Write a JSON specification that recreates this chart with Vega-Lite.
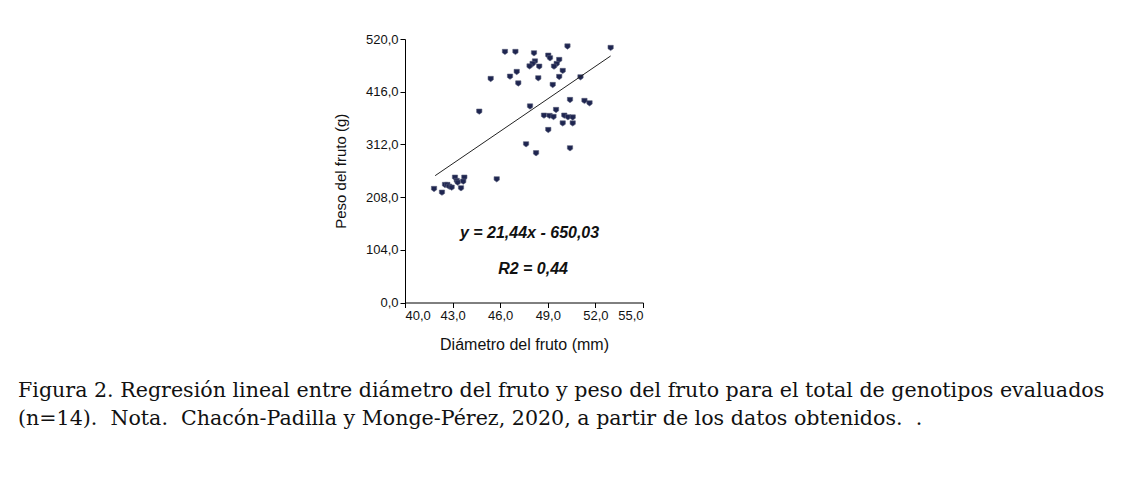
{
  "$schema": "https://vega.github.io/schema/vega-lite/v6.json",
  "width": 238,
  "height": 263.5,
  "autosize": {"type": "none"},
  "padding": {"left": 405, "top": 39, "right": 480, "bottom": 193},
  "background": "white",
  "config": {"view": {"stroke": null}, "font": "Liberation Sans"},
  "title": {
    "text": ["Figura 2. Regresión lineal entre diámetro del fruto y peso del fruto para el total de genotipos evaluados", "(n=14).\u00a0 Nota.\u00a0 Chacón-Padilla y Monge-Pérez, 2020, a partir de los datos obtenidos.\u00a0 ."],
    "orient": "bottom",
    "anchor": "start",
    "frame": "group",
    "dx": -387,
    "offset": 28,
    "font": "DejaVu Serif",
    "fontSize": 20.6,
    "fontWeight": "normal",
    "color": "#111111",
    "lineHeight": 28
  },
  "datasets": {
    "points": [
      {"d": 41.83, "p": 224.0}, {"d": 42.33, "p": 216.7}, {"d": 42.52, "p": 231.9}, {"d": 42.67, "p": 231.9},
      {"d": 42.79, "p": 228.5}, {"d": 42.94, "p": 226.6}, {"d": 43.15, "p": 246.3}, {"d": 43.26, "p": 239.8},
      {"d": 43.32, "p": 236.4}, {"d": 43.74, "p": 246.3}, {"d": 43.67, "p": 238.4}, {"d": 43.53, "p": 225.4},
      {"d": 45.78, "p": 243.1}, {"d": 44.68, "p": 376.6}, {"d": 45.40, "p": 441.1}, {"d": 46.30, "p": 494.4},
      {"d": 46.96, "p": 494.4}, {"d": 46.62, "p": 445.6}, {"d": 47.04, "p": 454.9}, {"d": 47.14, "p": 432.2},
      {"d": 48.13, "p": 491.8}, {"d": 48.19, "p": 475.6}, {"d": 48.04, "p": 470.7}, {"d": 47.85, "p": 465.8},
      {"d": 48.46, "p": 465.4}, {"d": 49.03, "p": 487.1}, {"d": 49.14, "p": 481.9}, {"d": 49.72, "p": 478.6},
      {"d": 49.56, "p": 470.7}, {"d": 49.39, "p": 465.4}, {"d": 49.94, "p": 456.9}, {"d": 48.40, "p": 442.5},
      {"d": 49.72, "p": 445.0}, {"d": 49.31, "p": 429.2}, {"d": 50.24, "p": 505.2}, {"d": 52.96, "p": 502.3},
      {"d": 51.06, "p": 444.4}, {"d": 47.88, "p": 386.8}, {"d": 50.40, "p": 399.6}, {"d": 51.31, "p": 397.7},
      {"d": 51.63, "p": 393.1}, {"d": 49.52, "p": 379.9}, {"d": 48.76, "p": 368.7}, {"d": 49.11, "p": 368.1},
      {"d": 49.36, "p": 366.1}, {"d": 50.04, "p": 368.7}, {"d": 50.27, "p": 365.5}, {"d": 50.57, "p": 365.1},
      {"d": 49.94, "p": 353.3}, {"d": 50.57, "p": 353.3}, {"d": 49.03, "p": 340.4}, {"d": 47.63, "p": 312.2},
      {"d": 48.26, "p": 294.5}, {"d": 50.40, "p": 304.3}
    ],
    "fit": [{"d": 41.9, "p": 250.3}, {"d": 52.96, "p": 486.5}],
    "notes": [
      {"d": 47.85, "p": 137, "t": "y = 21,44x - 650,03"},
      {"d": 48.07, "p": 67, "t": "R2 = 0,44"}
    ]
  },
  "layer": [
    {
      "data": {"name": "points"},
      "mark": {"type": "point", "shape": "M-1,-1L1,-1L1,0.3L0,1L-1,0.3Z", "size": 28, "filled": true, "color": "#1e2550", "stroke": "#5a5f7a", "strokeWidth": 0.6, "opacity": 1},
      "encoding": {
        "x": {
          "field": "d", "type": "quantitative",
          "scale": {"domain": [40, 55], "nice": false, "zero": false},
          "axis": {
            "title": "Diámetro del fruto (mm)",
            "values": [40, 43, 46, 49, 52, 55],
            "labelExpr": "replace(format(datum.value, '.1f'), '.', ',')",
            "grid": false, "domainColor": "#000000", "tickColor": "#000000", "tickSize": 5,
            "labelFont": "Liberation Sans", "labelFontSize": 13, "labelColor": "#111111", "labelPadding": 2,
            "titleFont": "Liberation Sans", "titleFontSize": 16, "titleFontWeight": "normal", "titleColor": "#111111", "titlePadding": 14
          }
        },
        "y": {
          "field": "p", "type": "quantitative",
          "scale": {"domain": [0, 520], "nice": false},
          "axis": {
            "title": "Peso del fruto (g)",
            "values": [0, 104, 208, 312, 416, 520],
            "labelExpr": "replace(format(datum.value, '.1f'), '.', ',')",
            "grid": false, "domainColor": "#000000", "tickColor": "#000000", "tickSize": 5,
            "labelFont": "Liberation Sans", "labelFontSize": 13, "labelColor": "#111111", "labelPadding": 2,
            "titleFont": "Liberation Sans", "titleFontSize": 15, "titleFontWeight": "normal", "titleColor": "#111111", "titlePadding": 17
          }
        }
      }
    },
    {
      "data": {"name": "fit"},
      "mark": {"type": "line", "color": "#222222", "strokeWidth": 1},
      "encoding": {
        "x": {"field": "d", "type": "quantitative"},
        "y": {"field": "p", "type": "quantitative"}
      }
    },
    {
      "data": {"name": "notes"},
      "mark": {"type": "text", "font": "Liberation Sans", "fontSize": 16, "fontWeight": "bold", "fontStyle": "italic", "color": "#111111", "align": "center", "baseline": "middle"},
      "encoding": {
        "x": {"field": "d", "type": "quantitative"},
        "y": {"field": "p", "type": "quantitative"},
        "text": {"field": "t"}
      }
    }
  ]
}
